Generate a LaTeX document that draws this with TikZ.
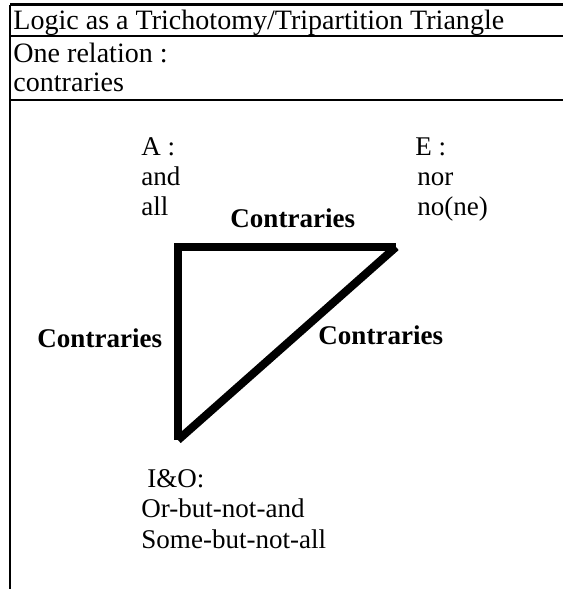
\documentclass[tikz,border=0pt]{standalone}
\usepackage{fontspec}
\setmainfont{Liberation Serif}
\begin{document}
\begin{tikzpicture}[x=0.444pt,y=-0.444pt]
	\tikzstyle{every node}+=[inner sep=0pt,anchor=base west,font=\fontsize{12}{14}\selectfont]
	\tikzstyle{rule}=[line width=1.3pt]
	\tikzstyle{head}=[font=\fontsize{12.45}{14}\selectfont]
	\tikzstyle{side}=[line width=3.6pt]
	\tikzstyle{rel}=[font=\fontsize{12}{14}\selectfont\bfseries]
	\useasboundingbox (0,0) rectangle (563,589);
	% table frame
	\coordinate (tl) at (10,4.5);
	\coordinate (tr) at (563,4.5);
	\coordinate (ml) at (10,36);
	\coordinate (mr) at (563,36);
	\coordinate (bl) at (10,100);
	\coordinate (br) at (563,100);
	\coordinate (foot) at (10,589);
	\draw [rule] (tl) -- (tr);
	\draw [rule] (ml) -- (mr);
	\draw [rule] (bl) -- (br);
	\draw [rule] (tl) -- (foot);
	\node [head] (title) at (13,29) {Logic as a Trichotomy/Tripartition Triangle};
	\node [head] (rel1) at (13,62) {One relation :};
	\node [head] (rel2) at (13,91) {contraries};
	% corners of the triangle
	\coordinate (A) at (178,247);
	\coordinate (E) at (396,247);
	\coordinate (IO) at (178,440);
	\node (a1) at (141,155) {A :};
	\node (a2) at (141,185) {and};
	\node (a3) at (141,215) {all};
	\node (e1) at (415,155) {E :};
	\node (e2) at (417,185) {nor};
	\node (e3) at (417,215) {no(ne)};
	\node (io1) at (147,487) {I\&O:};
	\node (io2) at (141,517) {Or-but-not-and};
	\node (io3) at (141,548) {Some-but-not-all};
	\draw [side,line join=miter] (IO) -- (A) -- (E);
	\draw [side] (E) -- (IO);
	\node [rel] (cAE) at (230,227) {Contraries};
	\node [rel] (cAI) at (37,347) {Contraries};
	\node [rel] (cEI) at (318,344) {Contraries};
\end{tikzpicture}
\end{document}
